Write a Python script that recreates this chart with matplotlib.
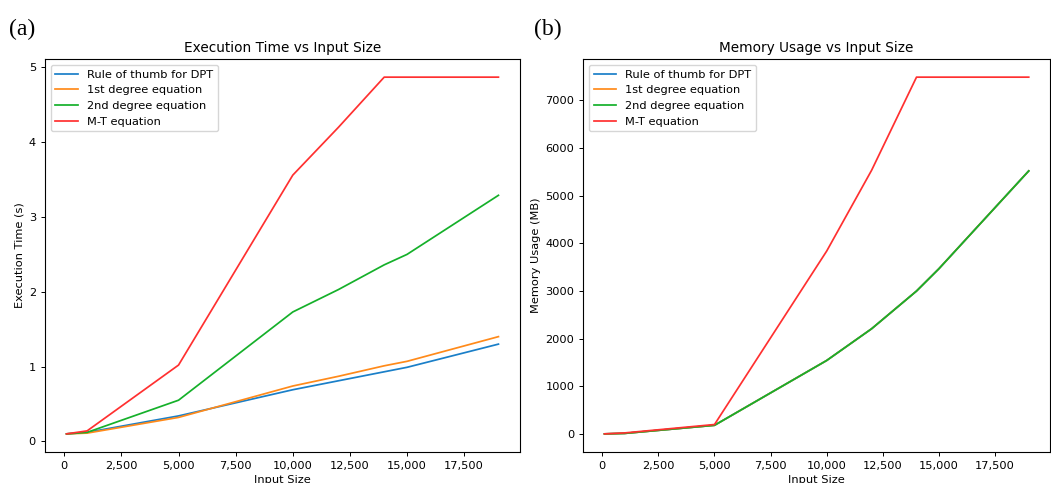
import matplotlib
matplotlib.use("Agg")
import matplotlib.pyplot as plt
from matplotlib.ticker import FuncFormatter

# ── Data ────────────────────────────────────────────────────────────────────
input_size = [100, 1000, 5000, 10000, 12000, 14000, 15000, 19000]

time_dpt    = [0.10, 0.12, 0.34, 0.69, 0.81, 0.93, 0.99, 1.30]
time_first  = [0.10, 0.11, 0.32, 0.74, 0.87, 1.01, 1.07, 1.40]
time_second = [0.10, 0.12, 0.55, 1.73, 2.03, 2.36, 2.50, 3.29]
time_mt     = [0.10, 0.14, 1.02, 3.56, 4.20, 4.87, 4.87, 4.87]

mem_dpt    = [0, 10, 180, 1540, 2205, 2996, 3465, 5516]
mem_first  = [0, 10, 180, 1540, 2205, 2996, 3465, 5516]
mem_second = [0, 10, 180, 1540, 2205, 2996, 3465, 5516]
mem_mt     = [0, 20, 196, 3836, 5530, 7483, 7483, 7483]

labels = ["Rule of thumb for DPT", "1st degree equation",
          "2nd degree equation", "M-T equation"]
colors = ["#1a7fc8", "#ff8a1a", "#15b02a", "#ff3030"]

# ── Figure ──────────────────────────────────────────────────────────────────
fig = plt.figure(figsize=(10.51, 4.83), dpi=100)
ax_a = fig.add_axes([0.0428, 0.0648, 0.452, 0.8124])
ax_b = fig.add_axes([0.555, 0.0648, 0.444, 0.8124])

comma = FuncFormatter(lambda v, p: f"{v:,.0f}")

panels = [
    (ax_a, [time_dpt, time_first, time_second, time_mt],
     "Execution Time vs Input Size", "Execution Time (s)"),
    (ax_b, [mem_dpt, mem_first, mem_second, mem_mt],
     "Memory Usage vs Input Size", "Memory Usage (MB)"),
]
for ax, series, title, ylabel in panels:
    for vals, lbl, c in zip(series, labels, colors):
        ax.plot(input_size, vals, color=c, lw=1.25, label=lbl)
    ax.set_title(title, fontsize=9.8, pad=5)
    ax.set_xlabel("Input Size", fontsize=8.2, labelpad=3)
    ax.set_ylabel(ylabel, fontsize=8.2, labelpad=3)
    ax.set_xticks([0, 2500, 5000, 7500, 10000, 12500, 15000, 17500])
    ax.xaxis.set_major_formatter(comma)
    ax.tick_params(labelsize=8.2, length=3, width=0.7)
    for s in ax.spines.values():
        s.set_linewidth(0.8)
    ax.legend(loc="upper left", fontsize=8.2)

ax_a.set_yticks([0, 1, 2, 3, 4, 5])
ax_b.set_yticks(range(0, 8000, 1000))

fig.text(0.009, 0.94, "(a)", family="Liberation Serif", fontsize=17, va="center")
fig.text(0.508, 0.94, "(b)", family="Liberation Serif", fontsize=17, va="center")

plt.savefig("out.png", dpi=100)
plt.close()
